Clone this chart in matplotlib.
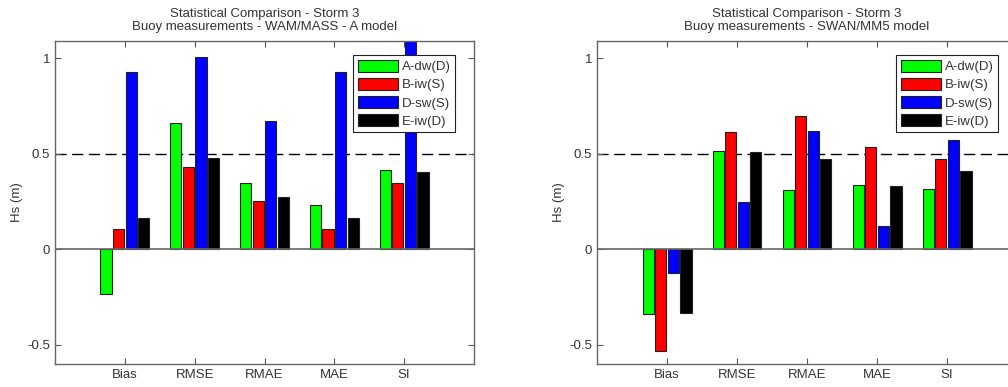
import numpy as np
import matplotlib.pyplot as plt

categories = ['Bias', 'RMSE', 'RMAE', 'MAE', 'SI']
series = ['A-dw(D)', 'B-iw(S)', 'D-sw(S)', 'E-iw(D)']
colors = ['#00ff00', '#ff0000', '#0000ff', '#000000']

# WAM/MASS - A model
wam_vals = [
    [-0.235, 0.663, 0.346, 0.234, 0.417],   # A-dw(D)
    [0.108, 0.431, 0.255, 0.108, 0.346],    # B-iw(S)
    [0.928, 1.007, 0.674, 0.928, 1.12],     # D-sw(S)
    [0.164, 0.476, 0.276, 0.164, 0.402],    # E-iw(D)
]
# SWAN/MM5 model
swan_vals = [
    [-0.339, 0.517, 0.310, 0.337, 0.316],
    [-0.531, 0.614, 0.695, 0.534, 0.471],
    [-0.126, 0.250, 0.619, 0.124, 0.574],
    [-0.335, 0.508, 0.473, 0.331, 0.412],
]

titles = ['Statistical Comparison - Storm 3\nBuoy measurements - WAM/MASS - A model',
          'Statistical Comparison - Storm 3\nBuoy measurements - SWAN/MM5 model']

W, H = 1008, 387
fig = plt.figure(figsize=(W / 100, H / 100), dpi=100)
txt = '#333333'
plt.rcParams['font.family'] = 'Liberation Sans'
fs = 9.5

def draw(ax, vals, title):
    x = np.arange(1, len(categories) + 1)
    offsets = [-0.27, -0.09, 0.09, 0.27]
    for i, name in enumerate(series):
        ax.bar(x + offsets[i], vals[i], width=0.16, color=colors[i],
               edgecolor='#222222', linewidth=0.8, label=name, zorder=2)
    ax.axhline(0, color='#666666', lw=1.2, zorder=3)
    ax.axhline(0.5, color='black', lw=1, ls=(0, (8, 4)), zorder=1)
    ax.set_xlim(0, 6)
    ax.set_ylim(-0.6, 1.09)
    ax.set_xticks(x)
    ax.set_xticklabels(categories)
    ax.set_yticks([-0.5, 0, 0.5, 1])
    ax.set_yticklabels(['-0.5', '0', '0.5', '1'])
    ax.tick_params(direction='in', top=True, right=True, length=4, width=0.8,
                   colors='#555555', labelcolor=txt, labelsize=fs)
    for s in ax.spines.values():
        s.set_color('#666666')
        s.set_linewidth(1)
    ax.set_ylabel('Hs (m)', fontsize=fs, color=txt, labelpad=3)
    ax.set_title(title, fontsize=fs, color=txt, pad=8, linespacing=1.15)
    leg = ax.legend(loc='upper right', bbox_to_anchor=(0.955, 0.957), fontsize=fs,
                    handlelength=3.0, handleheight=1.05, handletextpad=0.3,
                    labelspacing=0.35, borderpad=0.35, fancybox=False,
                    framealpha=1, edgecolor='#222222', borderaxespad=0)
    for t in leg.get_texts():
        t.set_color(txt)
    leg.get_frame().set_linewidth(0.8)

ax1 = fig.add_axes([55 / W, 1 - 364 / H, 419 / W, 323 / H])
ax2 = fig.add_axes([597 / W, 1 - 364 / H, 420 / W, 323 / H])
draw(ax1, wam_vals, titles[0])
draw(ax2, swan_vals, titles[1])

fig.savefig('out.png', dpi=100)
